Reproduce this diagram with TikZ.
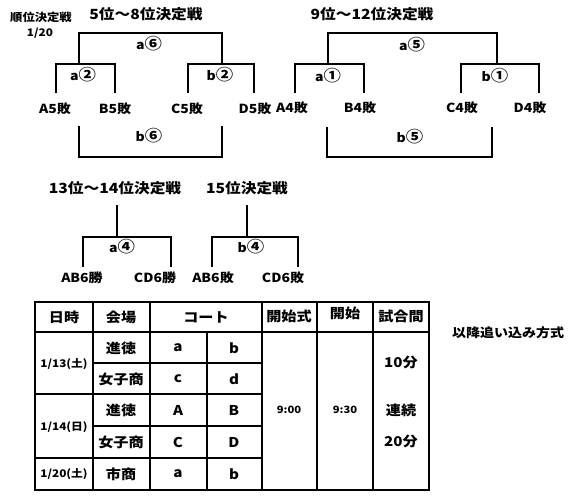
\documentclass[tikz,border=0pt]{standalone}
\usepackage{fontspec}
\setmainfont{Noto Sans CJK JP}[FakeStretch=1.12]
\newcommand{\cn}[1]{{\fontsize{15.5}{15}\selectfont #1}}
\begin{document}
\begin{tikzpicture}[x=1pt,y=-1pt,
  br/.style={line width=1.6pt},
  tl/.style={line width=1.2pt},
  ttl/.style={font=\fontsize{14}{14}\selectfont\bfseries},
  lbl/.style={font=\fontsize{12.5}{13}\selectfont\bfseries, inner sep=0pt},
  cell/.style={font=\fontsize{13.5}{14}\selectfont\bfseries, inner sep=0pt},
  sm/.style={font=\fontsize{10.5}{11}\selectfont\bfseries, inner sep=0pt},
  tm/.style={font=\fontsize{10}{10}\selectfont\bfseries, inner sep=0pt}]
\useasboundingbox (0,0) rectangle (580,500);
\fill[white] (0,0) rectangle (580,500);

% titles
\node[font=\fontsize{11}{11}\selectfont\bfseries, inner sep=0pt] (t0) at (41,17) {順位決定戦};
\node[sm] (t0b) at (40,33) {1/20};
\node[ttl] (t1) at (146,14) {5位～8位決定戦};
\node[ttl] (t2) at (372,14) {9位～12位決定戦};
\node[ttl] (t3) at (115,188) {13位～14位決定戦};
\node[ttl] (t4) at (247,188) {15位決定戦};

% ---- 5-8 bracket
\draw[br] (79,64) -- (79,33) -- (222,33) -- (222,64);
\draw[br] (56,93) -- (56,64) -- (115,64) -- (115,93);
\draw[br] (188,93) -- (188,64) -- (254,64) -- (254,93);
\draw[br] (79,126) -- (79,157) -- (222,157) -- (222,126);
\node[lbl] (m1) at (149,44) {a\cn{⑥}};
\node[lbl] (m2) at (83,75) {a\cn{②}};
\node[lbl] (m3) at (220,75) {b\cn{②}};
\node[lbl] (m4) at (149,136) {b\cn{⑥}};
\node[lbl] (p1) at (55,109) {A5敗};
\node[lbl] (p2) at (115,109) {B5敗};
\node[lbl] (p3) at (187,109) {C5敗};
\node[lbl] (p4) at (255,109) {D5敗};

% ---- 9-12 bracket
\draw[br] (328,64) -- (328,33) -- (497,33) -- (497,64);
\draw[br] (295,93) -- (295,64) -- (364,64) -- (364,93);
\draw[br] (461,93) -- (461,64) -- (539,64) -- (539,93);
\draw[br] (327,127) -- (327,157) -- (492,157) -- (492,127);
\node[lbl] (n1) at (412,45) {a\cn{⑤}};
\node[lbl] (n2) at (328,76) {a\cn{①}};
\node[lbl] (n3) at (495,76) {b\cn{①}};
\node[lbl] (n4) at (410,137) {b\cn{⑤}};
\node[lbl] (q1) at (292,108) {A4敗};
\node[lbl] (q2) at (360,108) {B4敗};
\node[lbl] (q3) at (462,108) {C4敗};
\node[lbl] (q4) at (530,108) {D4敗};

% ---- 13-14 and 15
\draw[br] (117,205) -- (117,237);
\draw[br] (83,267) -- (83,237) -- (171,237) -- (171,267);
\node[lbl] (k1) at (122,247) {a\cn{④}};
\node[lbl] (r1) at (82,278) {AB6勝};
\node[lbl] (r2) at (155,278) {CD6勝};
\draw[br] (247,205) -- (247,237);
\draw[br] (212,267) -- (212,237) -- (298,237) -- (298,267);
\node[lbl] (k2) at (251,247) {b\cn{④}};
\node[lbl] (r3) at (213,278) {AB6敗};
\node[lbl] (r4) at (283,278) {CD6敗};

% ---- table
\draw[tl] (35,302) rectangle (429,490);
\draw[line width=2pt] (35,332) -- (429,332);
\foreach \x in {93,150,262,317,373} \draw[tl] (\x,302) -- (\x,490);
\draw[tl] (207,332) -- (207,490);
\draw[tl] (35,394) -- (262,394);
\draw[tl] (35,458) -- (262,458);
\draw[tl] (93,363) -- (262,363);
\draw[tl] (93,426) -- (262,426);

\node[cell] (h1) at (64,317) {日時};
\node[cell] (h2) at (121,317) {会場};
\node[cell] (h3) at (206,317) {コート};
\node[cell] (h4) at (289,316) {開始式};
\node[cell] (h5) at (345,313) {開始};
\node[cell] (h6) at (401,316) {試合間};

\node[sm] (d1) at (64,364) {1/13(土)};
\node[sm] (d2) at (64,427) {1/14(日)};
\node[sm] (d3) at (64,474) {1/20(土)};

\node[cell] (v1) at (121,348) {進徳};
\node[cell] (v2) at (121,379) {女子商};
\node[cell] (v3) at (121,410) {進徳};
\node[cell] (v4) at (121,442) {女子商};
\node[cell] (v5) at (121,474) {市商};

\node[cell] (c1) at (178,348) {a};
\node[cell] (c2) at (234,348) {b};
\node[cell] (c3) at (178,379) {c};
\node[cell] (c4) at (234,379) {d};
\node[cell] (c5) at (178,410) {A};
\node[cell] (c6) at (234,410) {B};
\node[cell] (c7) at (178,442) {C};
\node[cell] (c8) at (234,442) {D};
\node[cell] (c9) at (178,474) {a};
\node[cell] (c10) at (234,474) {b};

\node[tm] (s1) at (289,410) {9:00};
\node[tm] (s2) at (345,410) {9:30};
\node[cell] (g1) at (401,362) {10分};
\node[cell] (g2) at (401,410) {連続};
\node[cell] (g3) at (401,441) {20分};

\node[font=\fontsize{12.5}{13}\selectfont\bfseries, inner sep=0pt] (note) at (508,333) {以降追い込み方式};
\end{tikzpicture}
\end{document}
